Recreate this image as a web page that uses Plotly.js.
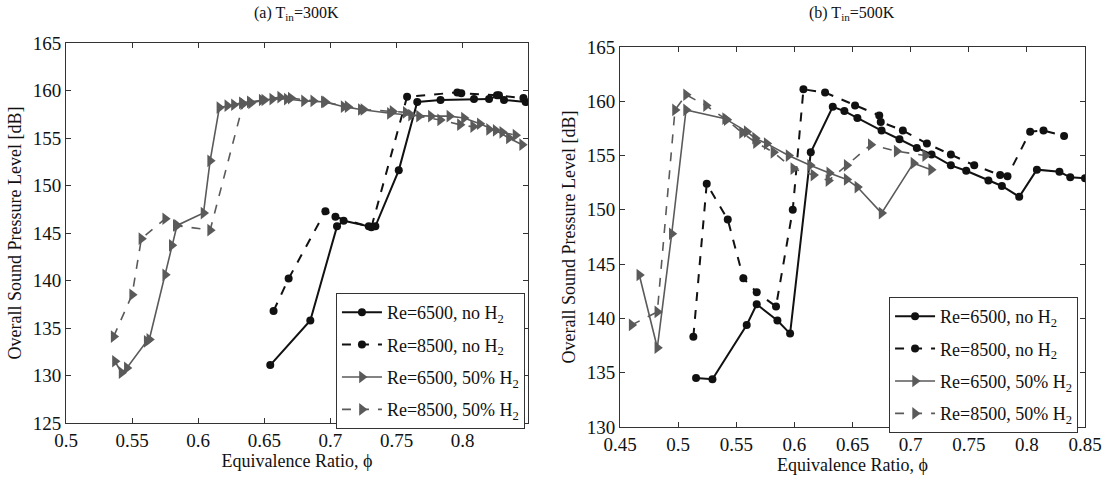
<!DOCTYPE html>
<html>
<head>
<meta charset="utf-8">
<script src="https://cdn.plot.ly/plotly-3.0.1.min.js"></script>
<style>html,body{margin:0;padding:0;background:#fff;}#chart{width:1104px;height:479px;}</style>
</head>
<body>
<div id="chart"></div>
<script>
// ---------- (a) Tin = 300K ----------
const a_re6500_noH2_x = [0.6545, 0.6848, 0.705, 0.710, 0.729, 0.734, 0.7517, 0.7657, 0.7833, 0.8086, 0.820, 0.8275, 0.8313, 0.8477];
const a_re6500_noH2_y = [131.1, 135.8, 145.7, 146.3, 145.7, 145.7, 151.6, 158.8, 159.0, 159.1, 159.1, 159.5, 159.0, 158.8];
const a_re8500_noH2_x = [0.657, 0.6684, 0.6962, 0.7038, 0.731, 0.758, 0.796, 0.799, 0.826, 0.846];
const a_re8500_noH2_y = [136.8, 140.2, 147.3, 146.7, 145.6, 159.35, 159.8, 159.7, 159.5, 159.2];
const a_re6500_H2_x = [0.537, 0.542, 0.546, 0.561, 0.563, 0.575, 0.580, 0.584, 0.604, 0.609, 0.616, 0.622, 0.627, 0.633, 0.639, 0.648, 0.656, 0.667, 0.680, 0.696, 0.710, 0.723, 0.745, 0.761, 0.776, 0.790, 0.801, 0.813, 0.825, 0.835, 0.845];
const a_re6500_H2_y = [131.5, 130.3, 130.8, 133.6, 133.8, 140.6, 143.7, 145.8, 147.1, 152.6, 158.2, 158.4, 158.5, 158.7, 158.8, 159.0, 159.1, 159.1, 158.9, 158.8, 158.3, 158.0, 157.6, 157.4, 157.3, 157.3, 157.1, 156.5, 155.8, 155.0, 154.3];
const a_re8500_H2_x = [0.536, 0.550, 0.557, 0.575, 0.583, 0.609, 0.634, 0.640, 0.650, 0.662, 0.670, 0.687, 0.695, 0.713, 0.725, 0.747, 0.757, 0.767, 0.783, 0.798, 0.808, 0.820, 0.830, 0.840];
const a_re8500_H2_y = [134.1, 138.5, 144.4, 146.5, 145.8, 145.3, 158.6, 158.7, 159.0, 159.3, 159.2, 158.9, 158.8, 158.3, 158.0, 157.8, 157.7, 157.3, 156.9, 156.4, 156.2, 155.9, 155.6, 155.3];

// ---------- (b) Tin = 500K ----------
const b_re6500_noH2_x = [0.5154, 0.5295, 0.559, 0.5676, 0.5854, 0.5963, 0.6141, 0.633, 0.643, 0.6542, 0.675, 0.6904, 0.7053, 0.718, 0.7346, 0.7478, 0.7669, 0.7785, 0.7934, 0.8086, 0.828, 0.8373, 0.85];
const b_re6500_noH2_y = [134.5, 134.4, 139.4, 141.3, 139.8, 138.6, 155.3, 159.5, 159.1, 158.45, 157.3, 156.5, 155.7, 155.1, 154.1, 153.6, 152.7, 152.2, 151.2, 153.7, 153.5, 153.0, 152.9];
const b_re8500_noH2_x = [0.5131, 0.5246, 0.5427, 0.5561, 0.5676, 0.5842, 0.5986, 0.6078, 0.6264, 0.6522, 0.673, 0.6743, 0.6933, 0.714, 0.7346, 0.7547, 0.777, 0.7833, 0.8028, 0.8143, 0.832];
const b_re8500_noH2_y = [138.3, 152.4, 149.1, 143.7, 142.4, 141.1, 150.0, 161.1, 160.8, 159.6, 158.7, 158.1, 157.3, 156.1, 155.1, 154.1, 153.2, 153.1, 157.2, 157.3, 156.8];
const b_re6500_H2_x = [0.4666, 0.4821, 0.4945, 0.5068, 0.5404, 0.559, 0.5662, 0.5762, 0.595, 0.6135, 0.63, 0.645, 0.6542, 0.675, 0.7024, 0.7176];
const b_re6500_H2_y = [144.0, 137.3, 147.8, 159.2, 158.4, 157.2, 156.6, 156.1, 155.0, 154.1, 153.4, 152.8, 152.1, 149.7, 154.3, 153.7];
const b_re8500_H2_x = [0.46, 0.4821, 0.4973, 0.5068, 0.524, 0.5418, 0.555, 0.567, 0.582, 0.5991, 0.6164, 0.6293, 0.645, 0.6657, 0.688, 0.7125];
const b_re8500_H2_y = [139.4, 140.6, 159.2, 160.6, 159.6, 158.3, 157.1, 156.2, 155.3, 153.8, 153.2, 152.7, 154.1, 156.0, 155.4, 155.0];

const legendNames = ['Re=6500, no H<sub>2</sub>', 'Re=8500, no H<sub>2</sub>', 'Re=6500, 50% H<sub>2</sub>', 'Re=8500, 50% H<sub>2</sub>'];
const panelTitles = ['(a) T<sub>in</sub>=300K', '(b) T<sub>in</sub>=500K'];
const xTitle = 'Equivalence Ratio, \u03d5';
const yTitle = 'Overall Sound Pressure Level [dB]';

const FONT = 'Liberation Serif';
const black = '#111';
const gray = '#5a5a5a';

function tr(x, y, name, kind, dash, xa, ya, lg, grp) {
  const isCircle = kind === 'circle';
  return {
    x: x, y: y, name: name, type: 'scatter', mode: 'lines+markers',
    xaxis: xa, yaxis: ya, legend: lg, legendgroup: grp,
    line: {color: isCircle ? black : gray, width: isCircle ? 2 : 1.6, dash: dash},
    marker: isCircle ? {symbol: 'circle', size: 8, color: black}
                     : {symbol: 'triangle-right', size: 11, color: gray}
  };
}

const data = [
  tr(a_re6500_noH2_x, a_re6500_noH2_y, legendNames[0], 'circle', 'solid', 'x', 'y', 'legend', 'a1'),
  tr(a_re8500_noH2_x, a_re8500_noH2_y, legendNames[1], 'circle', 'dash', 'x', 'y', 'legend', 'a2'),
  tr(a_re6500_H2_x, a_re6500_H2_y, legendNames[2], 'tri', 'solid', 'x', 'y', 'legend', 'a3'),
  tr(a_re8500_H2_x, a_re8500_H2_y, legendNames[3], 'tri', 'dash', 'x', 'y', 'legend', 'a4'),
  tr(b_re6500_noH2_x, b_re6500_noH2_y, legendNames[0], 'circle', 'solid', 'x2', 'y2', 'legend2', 'b1'),
  tr(b_re8500_noH2_x, b_re8500_noH2_y, legendNames[1], 'circle', 'dash', 'x2', 'y2', 'legend2', 'b2'),
  tr(b_re6500_H2_x, b_re6500_H2_y, legendNames[2], 'tri', 'solid', 'x2', 'y2', 'legend2', 'b3'),
  tr(b_re8500_H2_x, b_re8500_H2_y, legendNames[3], 'tri', 'dash', 'x2', 'y2', 'legend2', 'b4')
];

function axis(extra) {
  return Object.assign({
    showline: true, linecolor: '#333', linewidth: 1, mirror: 'ticks',
    ticks: 'inside', ticklen: 5, tickcolor: '#333', showgrid: false, zeroline: false,
    tickfont: {family: FONT, size: 19, color: '#111'}
  }, extra);
}

const legendBase = {
  bgcolor: '#fff', bordercolor: '#333', borderwidth: 1,
  font: {family: FONT, size: 18, color: '#111'},
  xanchor: 'left', yanchor: 'top', tracegroupgap: 6, itemwidth: 40
};

const titleFont = {family: FONT, size: 18, color: '#111'};

const layout = {
  width: 1104, height: 479,
  margin: {l: 0, r: 0, t: 0, b: 0},
  font: {family: FONT, size: 18, color: '#111'},
  paper_bgcolor: '#fff', plot_bgcolor: '#fff',
  showlegend: true,
  xaxis: axis({domain: [0.0598, 0.4783], range: [0.5, 0.8495], dtick: 0.05, tick0: 0.5, anchor: 'y',
    title: {text: xTitle, font: titleFont, standoff: 0}}),
  yaxis: axis({domain: [0.1169, 0.9102], range: [125, 165], dtick: 5, anchor: 'x',
    title: {text: yTitle, font: titleFont, standoff: 6}}),
  xaxis2: axis({domain: [0.5616, 0.9828], range: [0.45, 0.85], dtick: 0.05, tick0: 0.45, anchor: 'y2',
    title: {text: xTitle, font: titleFont, standoff: 0}}),
  yaxis2: axis({domain: [0.1086, 0.9019], range: [130, 165], dtick: 5, anchor: 'x2',
    title: {text: yTitle, font: titleFont, standoff: 6}}),
  legend: Object.assign({x: 0.3043, y: 0.3883}, legendBase),
  legend2: Object.assign({x: 0.8053, y: 0.3800}, legendBase),
  annotations: [
    {text: panelTitles[0], xref: 'paper', yref: 'paper', x: 0.269, y: 0.995, xanchor: 'center', yanchor: 'top',
     showarrow: false, font: {family: FONT, size: 16, color: '#111'}},
    {text: panelTitles[1], xref: 'paper', yref: 'paper', x: 0.772, y: 0.995, xanchor: 'center', yanchor: 'top',
     showarrow: false, font: {family: FONT, size: 16, color: '#111'}}
  ]
};

Plotly.newPlot('chart', data, layout, {displayModeBar: false});
</script>
</body>
</html>
